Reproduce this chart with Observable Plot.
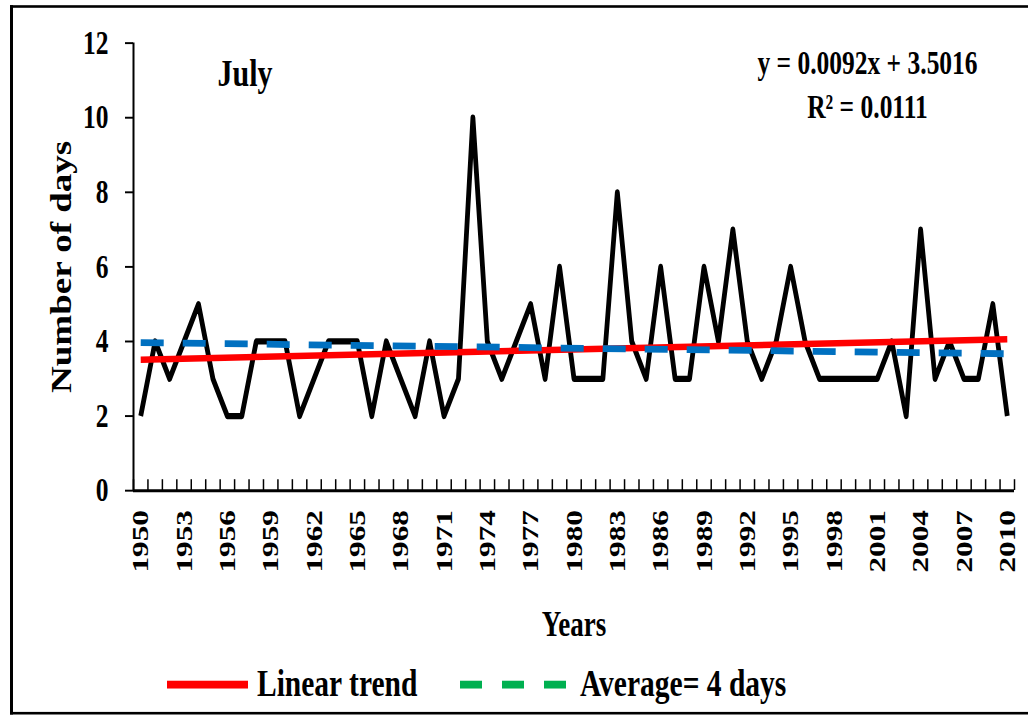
<!DOCTYPE html>
<html>
<head>
<meta charset="utf-8">
<script src="https://cdn.jsdelivr.net/npm/d3@7"></script>
<script src="https://cdn.jsdelivr.net/npm/@observablehq/plot@0.6"></script>
<style>
  html, body { margin: 0; padding: 0; background: #fff; overflow: hidden; }
  #wrap { position: absolute; left: 0; top: 0; width: 1030px; height: 555px;
          transform: scaleY(1.2991); transform-origin: 0 0; }
  #plot { position: absolute; left: 0; top: 0; }
  #border { position: absolute; left: 10px; top: 3.6px; width: 1018px; height: 546px;
            border-left: 3px solid #000; border-top: 2.5px solid #000; border-bottom: 2.5px solid #000;
            box-sizing: border-box; pointer-events: none; }
  .leg { position: absolute; font-family: "Liberation Serif", "Times New Roman", serif;
         font-weight: bold; font-size: 29.5px; line-height: 29px; color: #000; white-space: nowrap; }
  .sw { position: absolute; height: 6px; }
</style>
</head>
<body>
<div id="wrap">
  <div id="plot"></div>
  <div id="border"></div>
  <div class="sw" style="left:167px; top:523.5px; width:81px; background:#FF0000"></div>
  <div class="leg" id="leg1" style="left:257px; top:512px">Linear trend</div>
  <div class="sw" style="left:460px; top:523.5px; width:22px; background:#00B050"></div>
  <div class="sw" style="left:502px; top:523.5px; width:22px; background:#00B050"></div>
  <div class="sw" style="left:544px; top:523.5px; width:22px; background:#00B050"></div>
  <div class="leg" id="leg2" style="left:580px; top:512px">Average= 4 days</div>
</div>
<script>
// ---- data ----
const years = d3.range(1950, 2011);
const days = [2,4,3,4,5,3,2,2,4,4,4,2,3,4,4,4,2,4,3,2,
              4,2,3,10,4,3,4,5,3,6,3,3,3,8,4,3,6,3,3,6,
              4,7,4,3,4,6,4,3,3,3,3,3,4,2,7,3,4,3,3,5,2];
const yTicks = [0, 2, 4, 6, 8, 10, 12];
const xTickLabels = [1950,1953,1956,1959,1962,1965,1968,1971,1974,1977,1980,1983,1986,1989,1992,1995,1998,2001,2004,2007,2010];
const trendSlope = 0.0092, trendIntercept = 3.5016, trendR2 = 0.0111;
const avgYears = [1950, 2010];
const avgValues = [3.97, 3.67];
const title = "July";
const eq1 = "y = 0.0092x + 3.5016";
const eq2 = "R² = 0.0111";

const series = years.map((y, i) => ({year: y, days: days[i]}));
const trend = [0, years.length - 1].map(i => ({year: years[i], v: trendSlope * (i + 1) + trendIntercept}));
const avg = avgYears.map((y, i) => ({year: y, v: avgValues[i]}));
const bounds = years.map(y => y - 0.5).concat([years[years.length - 1] + 0.5]);

const font = '"Liberation Serif", "Times New Roman", serif';

const chart = Plot.plot({
  width: 1030,
  height: 555,
  marginLeft: 133,
  marginRight: 16,
  marginTop: 32.7,
  marginBottom: 177.8,
  style: {fontFamily: font, fontWeight: "bold", fontSize: "25px", background: "transparent", color: "#000", overflow: "visible"},
  x: {type: "linear", domain: [bounds[0], bounds[bounds.length - 1]], axis: null},
  y: {domain: [0, 12]},
  marks: [
    Plot.axisY({ticks: yTicks, tickSize: 8, tickPadding: 17, tickFormat: d => String(d), fontSize: 25.5, strokeWidth: 1.5, label: null}),
    Plot.ruleX([bounds[0]], {y1: 0, y2: 12, stroke: "#000", strokeWidth: 2}),
    Plot.ruleX(bounds, {x: d => d, y1: 0, y2: 0.29, stroke: "#000", strokeWidth: 1.5}),
    Plot.ruleY([0], {x1: bounds[0], x2: bounds[bounds.length - 1], stroke: "#000", strokeWidth: 2.3}),
    Plot.text(xTickLabels, {x: d => d, frameAnchor: "bottom", dy: 15, rotate: -90, textAnchor: "end", lineAnchor: "middle", text: d => String(d), fontSize: 24, fontWeight: "bold", ariaLabel: "xlabels"}),
    Plot.line(series, {x: "year", y: "days", stroke: "#000", strokeWidth: 4.8, strokeLinejoin: "round", strokeLinecap: "butt"}),
    Plot.line(trend, {x: "year", y: "v", stroke: "#FF0000", strokeWidth: 5, strokeLinecap: "butt"}),
    Plot.line(avg, {x: "year", y: "v", stroke: "#0070C0", strokeWidth: 5.2, strokeDasharray: "23,19", strokeLinecap: "butt"}),
    Plot.text([title], {frameAnchor: "top-left", dx: 84, dy: 32.7, textAnchor: "start", lineAnchor: "bottom", fontSize: 30}),
    Plot.text([eq1], {frameAnchor: "top-left", dx: 734, dy: 23.5, textAnchor: "middle", lineAnchor: "bottom", fontSize: 25.5, ariaLabel: "eq"}),
    Plot.text([eq2], {frameAnchor: "top-left", dx: 734, dy: 57.3, textAnchor: "middle", lineAnchor: "bottom", fontSize: 25.5, ariaLabel: "eq"}),
    Plot.text(["Number of days"], {frameAnchor: "left", dx: -63, rotate: -90, textAnchor: "middle", lineAnchor: "bottom", fontSize: 28.5}),
    Plot.text(["Years"], {frameAnchor: "bottom", dy: 111.6, textAnchor: "middle", lineAnchor: "bottom", fontSize: 27})
  ]
});
d3.select(chart).selectAll('g[aria-label="xlabels"] text').style("letter-spacing", "1.5px");
d3.select(chart).selectAll('g[aria-label="eq"] text').style("letter-spacing", "1.4px");
document.getElementById("plot").appendChild(chart);
</script>
</body>
</html>
